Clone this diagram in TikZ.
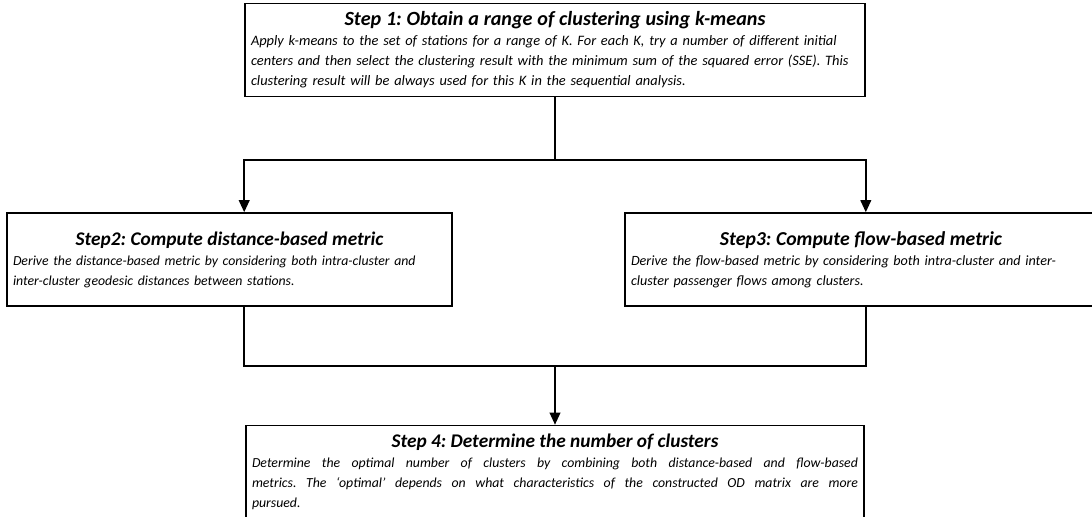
\documentclass[tikz,border=0pt]{standalone}
\usepackage{fontspec}
\setmainfont{Carlito}
\usetikzlibrary{arrows.meta,positioning}

\newcommand{\stephead}[2][14.5]{{\centering\bfseries\fontsize{#1}{15}\selectfont #2\par}}

\begin{document}
\frenchspacing
\begin{tikzpicture}[x=0.75pt,y=-0.75pt]
\tikzstyle{box} = [draw, rectangle, line width=1.2pt, inner xsep=4.5pt, inner ysep=0pt, minimum height=69.75pt, font=\fontsize{10.35}{15}\selectfont\itshape, align=left]
\tikzstyle{arrow} = [line width=1.2pt,-{Triangle[length=9pt,width=8pt]}]
\tikzstyle{line} = [line width=1.2pt]

\useasboundingbox (0,0) rectangle (1092,517);

% Step 1
\node[box, text width=456pt, font=\fontsize{10.8}{15}\selectfont\itshape] (step1) at (555,50) {\stephead[15.1]{Step 1: Obtain a range of clustering using k-means}Apply k-means to the set of stations for a range of K. For each K, try a number of different initial\\centers and then select the clustering result with the minimum sum of the squared error (SSE). This\\clustering result will be always used for this K in the sequential analysis.};

% Step 2 and 3
\node[box, text width=324.75pt] (step2) at (229.5,259.5) {\stephead{Step2: Compute distance-based metric}Derive the distance-based metric by considering both intra-cluster and\\inter-cluster geodesic distances between stations.};
\node[box, text width=345pt, font=\fontsize{10.6}{15}\selectfont\itshape] (step3) at (861,259.5) {\stephead[14.8]{Step3: Compute flow-based metric}Derive the flow-based metric by considering both intra-cluster and inter-\\cluster passenger flows among clusters.};

% Step 4
\node[box, text width=454.5pt, align=justify] (step4) at (555,472) {\stephead{Step 4: Determine the number of clusters}Determine the optimal number of clusters by combining both distance-based and flow-based\linebreak metrics. The `optimal' depends on what characteristics of the constructed OD matrix are more\linebreak pursued.};

% fork
\coordinate (fork) at (555,160);
\draw [line] (step1.south) -- (fork);
\draw [arrow] (fork) -| (step1.west |- step2.north);
\draw [arrow] (fork) -| (step1.east |- step3.north);

% join
\coordinate (join) at (555,366);
\draw [line] (step1.west |- step2.south) |- (join) -| (step1.east |- step3.south);
\draw [arrow] (join) -- (step4.north);

\end{tikzpicture}
\end{document}
